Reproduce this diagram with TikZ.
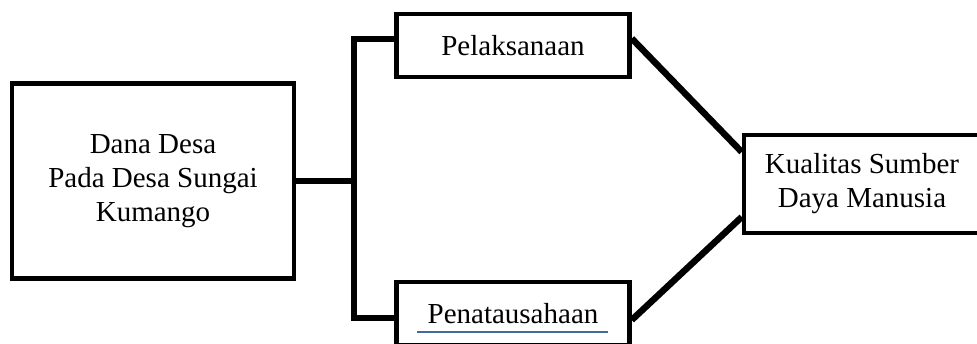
\documentclass[tikz,border=0pt]{standalone}
\usepackage{fontspec}
\setmainfont{Liberation Serif}
\definecolor{ulblue}{RGB}{68,106,155}
\begin{document}
\begin{tikzpicture}[x=1pt,y=-1pt,
  box/.style={draw=black, line width=4.5pt, fill=white, rectangle, align=center,
    inner sep=0pt, font=\fontsize{29}{34}\selectfont},
  conn/.style={draw=black, line width=6.5pt, line join=miter}]
\useasboundingbox (0,0) rectangle (977,344);
\clip (0,0) rectangle (977,344);
\fill[white] (0,0) rectangle (977,344);
\coordinate (bt) at (354,39);
\coordinate (bb) at (354,318);
\node[box, minimum width=282pt, minimum height=195pt] (dana) at (153,181) {Dana Desa\\Pada Desa Sungai\\Kumango};
\node[box, minimum width=233pt, minimum height=63pt] (pel) at (513,45.5) {Pelaksanaan};
\node[box, minimum width=233pt, minimum height=63pt] (pen) at (513,313.5) {Penatausahaan};
\node[box, minimum width=236pt, minimum height=98pt] (kua) at (862,184) {Kualitas Sumber\\Daya Manusia};
\coordinate (jn) at (dana.east -| bt);
\draw[conn] (dana.east) -- (jn);
\draw[conn] (pel.west |- bt) -- (bt) -- (bb) -- (pen.west |- bb);
\draw[conn] ([yshift=7pt]pel.east) -- ([yshift=32pt]kua.west);
\draw[conn] ([yshift=-6.5pt]pen.east) -- ([yshift=-33pt]kua.west);
\coordinate (ul1) at (417,332);
\coordinate (ul2) at (608,332);
\draw[ulblue, line width=2pt] (ul1) -- (ul2);
\end{tikzpicture}
\end{document}
